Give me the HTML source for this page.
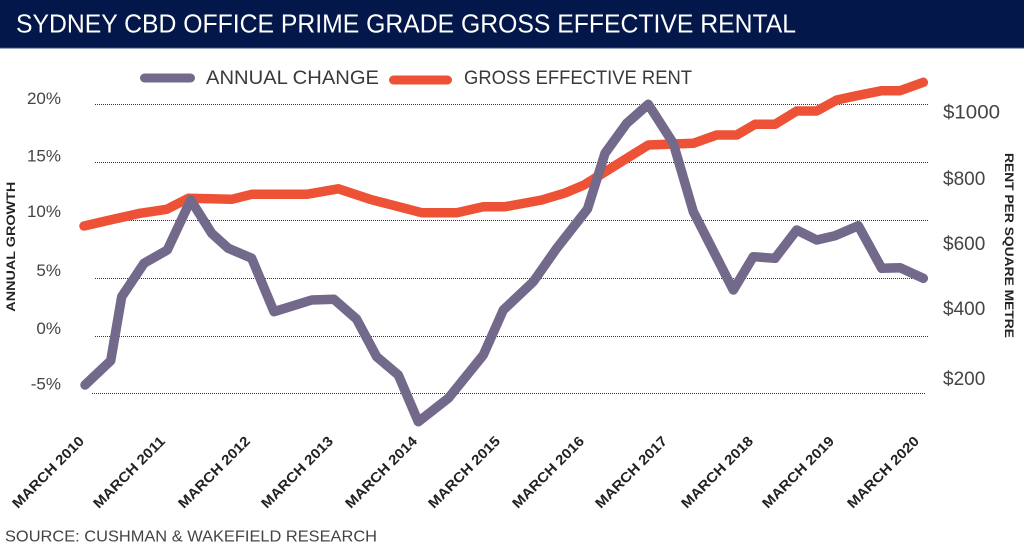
<!DOCTYPE html>
<html>
<head>
<meta charset="utf-8">
<style>
  html, body { margin: 0; padding: 0; background: #ffffff; }
  svg { display: block; }
  text { font-family: "Liberation Sans", sans-serif; }
</style>
</head>
<body>
<svg width="1024" height="545" viewBox="0 0 1024 545" xmlns="http://www.w3.org/2000/svg">
  <rect x="0" y="0" width="1024" height="545" fill="#ffffff"/>
  <!-- Title bar -->
  <rect x="0" y="0" width="1024" height="48" fill="#03174a"/>
  <rect x="0" y="47.5" width="1024" height="1" fill="#3a4d7a"/>
  <text x="16" y="32.3" font-size="26" fill="#ffffff" textLength="780" lengthAdjust="spacingAndGlyphs">SYDNEY CBD OFFICE PRIME GRADE GROSS EFFECTIVE RENTAL</text>

  <!-- Legend -->
  <line x1="144.5" y1="78" x2="190.5" y2="78" stroke="#736a8b" stroke-width="9" stroke-linecap="round"/>
  <text x="206" y="84" font-size="19" fill="#3a3a3a" textLength="173" lengthAdjust="spacingAndGlyphs">ANNUAL CHANGE</text>
  <line x1="393.5" y1="80" x2="447.5" y2="80" stroke="#ee5236" stroke-width="9" stroke-linecap="round"/>
  <text x="464" y="84" font-size="19" fill="#3a3a3a" textLength="228" lengthAdjust="spacingAndGlyphs">GROSS EFFECTIVE RENT</text>

  <!-- Gridlines -->
  <g stroke="#333" stroke-width="1" stroke-dasharray="1 1">
    <line x1="95" y1="104.5" x2="928" y2="104.5"/>
    <line x1="95" y1="162.5" x2="928" y2="162.5"/>
    <line x1="95" y1="220.5" x2="928" y2="220.5"/>
    <line x1="95" y1="278.5" x2="928" y2="278.5"/>
    <line x1="95" y1="336.5" x2="928" y2="336.5"/>
    <line x1="92" y1="393.5" x2="925" y2="393.5"/>
  </g>

  <!-- Left axis labels -->
  <g font-size="17" fill="#444" text-anchor="end">
    <text x="61" y="104">20%</text>
    <text x="61" y="161.7">15%</text>
    <text x="61" y="217">10%</text>
    <text x="61" y="276">5%</text>
    <text x="61" y="334">0%</text>
    <text x="61" y="389.3">-5%</text>
  </g>
  <text transform="translate(15,246.7) rotate(-90)" font-size="12" font-weight="bold" fill="#222" text-anchor="middle" textLength="130" lengthAdjust="spacingAndGlyphs">ANNUAL GROWTH</text>

  <!-- Right axis labels -->
  <g font-size="19" fill="#444">
    <text x="943" y="118.5" textLength="57" lengthAdjust="spacingAndGlyphs">$1000</text>
    <text x="943" y="185">$800</text>
    <text x="943" y="250">$600</text>
    <text x="943" y="315">$400</text>
    <text x="943" y="385">$200</text>
  </g>
  <text transform="translate(1005,245.5) rotate(90)" font-size="12" font-weight="bold" fill="#222" text-anchor="middle" textLength="185" lengthAdjust="spacingAndGlyphs">RENT PER SQUARE METRE</text>

  <!-- Gross effective rent series -->
  <polyline fill="none" stroke="#ee5236" stroke-width="9.5" stroke-linecap="round" stroke-linejoin="round"
    points="84,226 110,220 140,213.3 166.7,209.3 188.3,198.3 231.7,199.3 251.7,194.3 306.7,194.3 338.3,188.8 370,199.3 421.7,212.7 456.7,212.7 483.3,206.7 505,206.7 541.7,200 565,193 584,185 648.3,145 693.3,143.3 716.7,135 736.7,135 755,124.3 775,124.3 796.7,111 816.7,111 836.7,100 856.7,95.7 881.7,90.7 900,90.7 923.3,82.3"/>

  <!-- Annual change series -->
  <polyline fill="none" stroke="#736a8b" stroke-width="9.5" stroke-linecap="round" stroke-linejoin="round"
    points="85,385 110.7,360.7 121.7,296.7 144,263.3 167.3,250 190.7,200 211.7,233.3 228.3,248.3 251.7,258.3 274,311.7 311.7,300 334,299.3 356.5,319 376.7,356.7 398.3,375 418.3,421.7 448.3,398.3 483.3,355 503.3,310 533.3,281.7 556.7,248.3 587.5,209 605,153.3 626.7,123.3 648.3,104.3 673.3,143.3 693.3,211.7 733.3,290 753.3,256.7 775,258.3 796.7,230 816.7,240 835,235.7 858.3,225.7 881.7,268.3 900,267.7 923.3,278.3"/>

  <!-- X axis labels -->
  <g font-size="14" font-weight="bold" fill="#222" text-anchor="end">
    <text transform="translate(85,442) rotate(-45)" textLength="95" lengthAdjust="spacingAndGlyphs">MARCH 2010</text>
    <text transform="translate(166,442) rotate(-45)" textLength="95" lengthAdjust="spacingAndGlyphs">MARCH 2011</text>
    <text transform="translate(251,442) rotate(-45)" textLength="95" lengthAdjust="spacingAndGlyphs">MARCH 2012</text>
    <text transform="translate(334,442) rotate(-45)" textLength="95" lengthAdjust="spacingAndGlyphs">MARCH 2013</text>
    <text transform="translate(418,442) rotate(-45)" textLength="95" lengthAdjust="spacingAndGlyphs">MARCH 2014</text>
    <text transform="translate(501,442) rotate(-45)" textLength="95" lengthAdjust="spacingAndGlyphs">MARCH 2015</text>
    <text transform="translate(585,442) rotate(-45)" textLength="95" lengthAdjust="spacingAndGlyphs">MARCH 2016</text>
    <text transform="translate(668,442) rotate(-45)" textLength="95" lengthAdjust="spacingAndGlyphs">MARCH 2017</text>
    <text transform="translate(754,442) rotate(-45)" textLength="95" lengthAdjust="spacingAndGlyphs">MARCH 2018</text>
    <text transform="translate(835,442) rotate(-45)" textLength="95" lengthAdjust="spacingAndGlyphs">MARCH 2019</text>
    <text transform="translate(920,442) rotate(-45)" textLength="95" lengthAdjust="spacingAndGlyphs">MARCH 2020</text>
  </g>

  <!-- Source -->
  <text x="5" y="541.5" font-size="16" fill="#444" textLength="372" lengthAdjust="spacingAndGlyphs">SOURCE: CUSHMAN &amp; WAKEFIELD RESEARCH</text>
</svg>
</body>
</html>
